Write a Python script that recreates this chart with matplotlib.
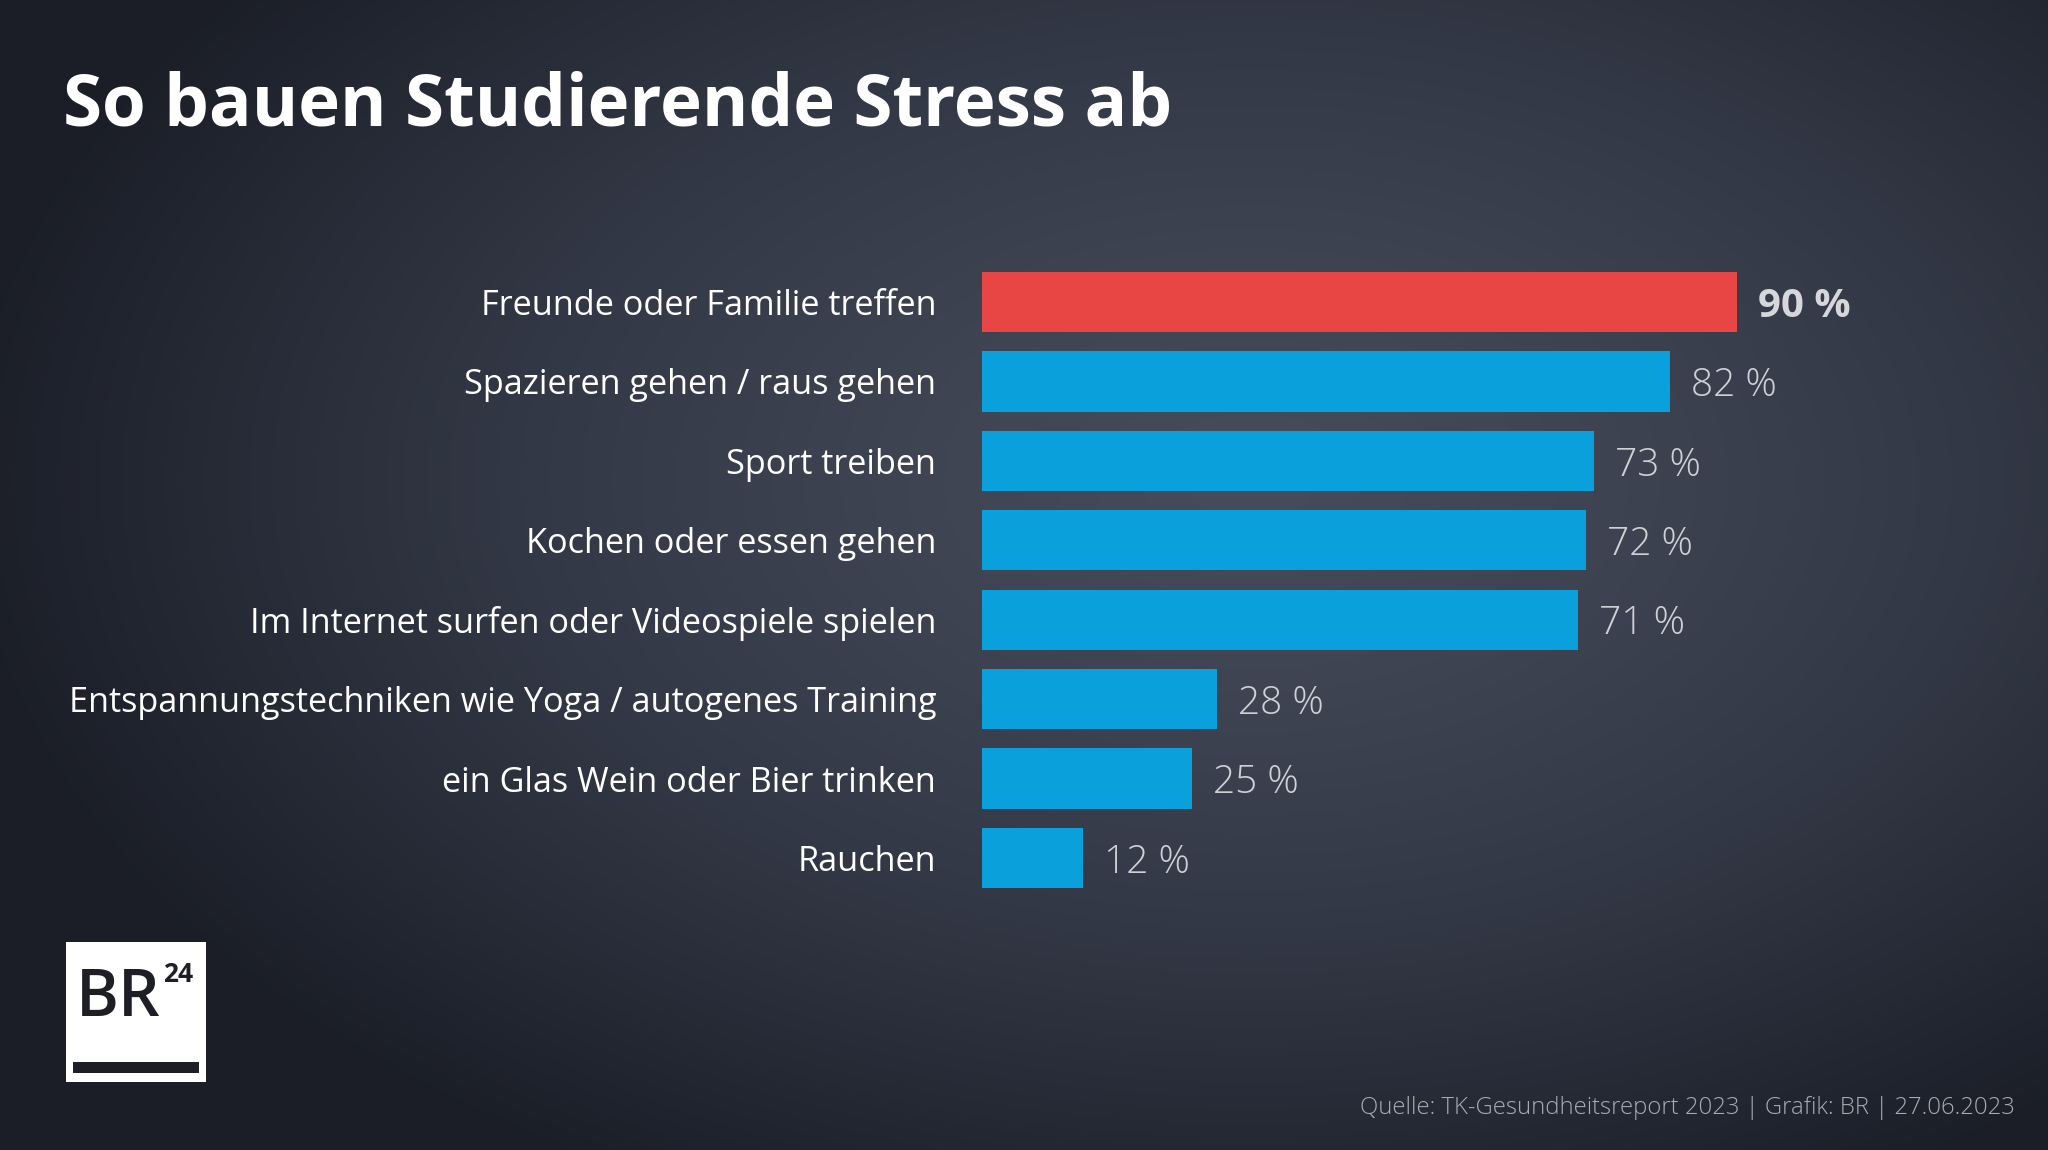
import numpy as np
import matplotlib
matplotlib.use("Agg")
import matplotlib.pyplot as plt
from matplotlib.patches import Rectangle
from matplotlib.colors import LinearSegmentedColormap

# ---- data ----
categories = [
    "Freunde oder Familie treffen",
    "Spazieren gehen / raus gehen",
    "Sport treiben",
    "Kochen oder essen gehen",
    "Im Internet surfen oder Videospiele spielen",
    "Entspannungstechniken wie Yoga / autogenes Training",
    "ein Glas Wein oder Bier trinken",
    "Rauchen",
]
values = [90, 82, 73, 72, 71, 28, 25, 12]
highlight = [True, False, False, False, False, False, False, False]
title = "So bauen Studierende Stress ab"
source = "Quelle: TK-Gesundheitsreport 2023 | Grafik: BR | 27.06.2023"

RED = "#e84545"
BLUE = "#0aa0dc"
FONT = ["Open Sans", "DejaVu Sans"]

W, H = 2048, 1150
fig = plt.figure(figsize=(W / 100, H / 100), dpi=100)

# ---- background gradient ----
bg = fig.add_axes([0, 0, 1, 1], zorder=-10)
yy, xx = np.mgrid[0:H, 0:W]
d = np.sqrt(((xx - 1250) / 1300.0) ** 2 + ((yy - 480) / 800.0) ** 2)
t = np.clip(d, 0, 1) ** 1.2
cmap = LinearSegmentedColormap.from_list("bg", ["#474c5b", "#333846", "#1b1e27"])
bg.imshow(t, cmap=cmap, vmin=0, vmax=1, aspect="auto", extent=[0, W, H, 0])
bg.set_xlim(0, W)
bg.set_ylim(H, 0)
bg.axis("off")

# ---- bar axes ----
x0, x100 = 982, 1821
yc0, yc7 = 302, 858
step = (yc7 - yc0) / 7
top = yc0 - step / 2
bot = yc7 + step / 2
ax = fig.add_axes([x0 / W, 1 - bot / H, (x100 - x0) / W, (bot - top) / H])
ax.patch.set_alpha(0)
ypos = np.arange(len(categories))
colors = [RED if h else BLUE for h in highlight]
ax.barh(ypos, values, height=0.76, color=colors)
ax.set_xlim(0, 100)
ax.set_ylim(len(categories) - 0.5, -0.5)
ax.set_yticks(ypos, categories)
ax.tick_params(axis="y", length=0, pad=33, labelsize=24.7, labelcolor="white")
for lab in ax.get_yticklabels():
    lab.set_fontfamily(FONT)
ax.set_xticks([])
for s in ax.spines.values():
    s.set_visible(False)

for i, (v, h) in enumerate(zip(values, highlight)):
    ax.annotate(f"{v} %", xy=(v, i), xytext=(15, 0), textcoords="offset points",
                va="center_baseline", ha="left", fontsize=29 if h else 28,
                fontweight="bold" if h else "light",
                color="#d6d7dc" if h else "#cfd0d6", family=FONT)

# ---- title ----
fig.text(63 / W, 1 - 125 / H, title, fontsize=51, fontweight="bold",
         color="white", family=FONT, ha="left", va="baseline")

# ---- source ----
fig.text(2015 / W, 1 - 1114 / H, source, fontsize=17.2, color="#a9aab2",
         family=FONT, fontweight="light", ha="right", va="baseline")

# ---- logo ----
lg = fig.add_axes([0, 0, 1, 1], zorder=5)
lg.set_xlim(0, W)
lg.set_ylim(H, 0)
lg.axis("off")
lg.add_patch(Rectangle((66, 942), 140, 140, facecolor="white", edgecolor="none"))
lg.add_patch(Rectangle((73, 1062), 126, 11, facecolor="#1e1f26", edgecolor="none"))
lg.text(76, 1016, "BR", fontsize=47, color="#1e1f26", ha="left", va="baseline",
        family=FONT, fontweight="semibold")
lg.text(163, 982, "24", fontsize=19, fontweight="bold", color="#1e1f26",
        ha="left", va="baseline", family=FONT)

fig.savefig("out.png", dpi=100)
